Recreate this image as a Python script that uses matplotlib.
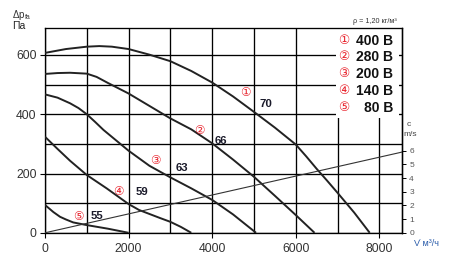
import matplotlib
matplotlib.use("Agg")
import matplotlib.pyplot as plt
from matplotlib.patches import Rectangle

# ── data ─────────────────────────────────────────────────────────────────────
voltages = ["400 B", "280 B", "200 B", "140 B", "80 B"]
marks = ["①", "②", "③", "④", "⑤"]
noise_db = ["70", "66", "63", "59", "55"]

flow_400 = [0, 500, 1000, 1300, 1600, 2000, 2500, 3000, 3500, 4000, 4500,
            5000, 5500, 6000, 6250, 6500, 6750, 7000, 7400, 7770]
dp_400 = [607, 620, 628, 630, 628, 620, 601, 579, 546, 507, 460,
          408, 355, 298, 258, 216, 176, 135, 68, 0]

flow_280 = [0, 300, 600, 1000, 1235, 1500, 2000, 2500, 3000, 3500, 4000,
            4500, 5000, 5500, 6000, 6450]
dp_280 = [536, 539, 540, 537, 526, 506, 470, 428, 386, 349, 302,
          247, 189, 125, 60, 0]

flow_200 = [0, 300, 600, 800, 1000, 1200, 1400, 2000, 2500, 3000, 3500, 4000,
            4500, 5050]
dp_200 = [467, 456, 437, 421, 400, 374, 347, 277, 226, 187, 150, 111, 62, 0]

flow_140 = [0, 300, 600, 1000, 1475, 2000, 2250, 2750, 3000, 3250, 3500]
dp_140 = [324, 283, 243, 195, 150, 97, 77, 50, 37, 20, 0]

flow_80 = [0, 200, 360, 500, 675, 1000, 1500, 2000]
dp_80 = [94, 70, 54, 45, 35, 26, 14, 0]

flow_vel = [0, 8550]
vel = [0, 5.9]

# ── layout / style ──────────────────────────────────────────────────────────
W, H = 457, 256
FONT = ["Liberation Sans", "DejaVu Sans", "Noto Sans CJK JP"]
INK = "#222222"
RED = "#e8202a"
XMAX, YMAX = 8550, 690
PA_PER_MS = 46.2

plt.rcParams["font.family"] = FONT
plt.rcParams["mathtext.fontset"] = "custom"
plt.rcParams["mathtext.rm"] = "Liberation Sans"

fig = plt.figure(figsize=(W / 100, H / 100), dpi=100)
ax = fig.add_axes([45 / W, 1 - 232.8 / H, (402.3 - 45) / W, (232.8 - 28.3) / H])
ax.set_xlim(0, XMAX)
ax.set_ylim(0, YMAX)

ax.set_xticks(range(0, 8001, 2000))
ax.set_xticks(range(0, 8001, 1000), minor=True)
ax.set_yticks(range(0, 601, 200))
ax.set_yticks(range(0, 601, 100), minor=True)
ax.grid(which="both", color="black", lw=0.95)
ax.set_axisbelow(True)
ax.tick_params(which="major", direction="out", length=3.6, width=0.8,
               labelsize=8.8, labelcolor="#333333", pad=2.5)
ax.tick_params(axis="x", which="major", pad=4)
ax.tick_params(which="minor", length=0)
for s in ax.spines.values():
    s.set_linewidth(0.95)
    s.set_color("black")

# curves
for fx, dp in [(flow_400, dp_400), (flow_280, dp_280), (flow_200, dp_200),
               (flow_140, dp_140), (flow_80, dp_80)]:
    ax.plot(fx, dp, color=INK, lw=1.4, zorder=3, solid_capstyle="butt",
            solid_joinstyle="round")

# curve labels
mark_pos = [(4795, 472), (3705, 343), (2650, 243), (1750, 139), (810, 52)]
num_pos = [(5280, 434), (4220, 310), (3265, 220), (2310, 139), (1235, 58)]
for m, (mx, my), n, (nx, ny) in zip(marks, mark_pos, noise_db, num_pos):
    ax.text(mx, my, m, color=RED, fontsize=8.5, ha="center", va="center", zorder=4)
    ax.text(nx, ny, n, color="#1a1a2a", fontsize=8.2, fontweight="bold",
            ha="center", va="center", zorder=4)

# legend box
ax.add_patch(Rectangle((6960, 388), 8460 - 6960, YMAX - 388, facecolor="white",
                       edgecolor="none", zorder=1))
for i, (m, v) in enumerate(zip(marks, voltages)):
    y = 1 - (40.7 + 16.75 * i) / H
    fig.text(338.5 / W, y, m, color=RED, fontsize=9, ha="left", va="center")
    fig.text(393.5 / W, y, v, color="#111111", fontsize=10, fontweight="bold",
             ha="right", va="center")

# velocity axis
axv = ax.twinx()
axv.set_ylim(0, YMAX / PA_PER_MS)
axv.plot(flow_vel, vel, color="#333333", lw=0.8)
axv.set_yticks(range(0, 7))
axv.tick_params(direction="out", length=3, width=0.7, labelsize=6,
                labelcolor="#555555", pad=2)
for k, s in axv.spines.items():
    s.set_visible(k == "right")
axv.spines["right"].set_linewidth(0.95)

# axis labels
fig.text(12 / W, 1 - 15 / H, r"$\Delta\mathrm{p}_{\mathrm{fa}}$", fontsize=7,
         color="#333333", ha="left", va="center")
fig.text(12 / W, 1 - 26 / H, "Па", fontsize=7.5, color="#222222", ha="left", va="center")
fig.text(396.7 / W, 1 - 21.7 / H, "ρ = 1,20 кг/м³", fontsize=5.2, color="#333333",
         ha="right", va="center")
fig.text(407 / W, 1 - 124 / H, "c", fontsize=6, color="#444444", ha="left", va="center")
fig.text(403 / W, 1 - 134.7 / H, "m/s", fontsize=6, color="#444444", ha="left", va="center")
fig.text(414 / W, 1 - 243 / H, "V̇ м³/ч", fontsize=6.5, color="#2a5caa",
         ha="left", va="center")

fig.savefig("out.png", dpi=100)
